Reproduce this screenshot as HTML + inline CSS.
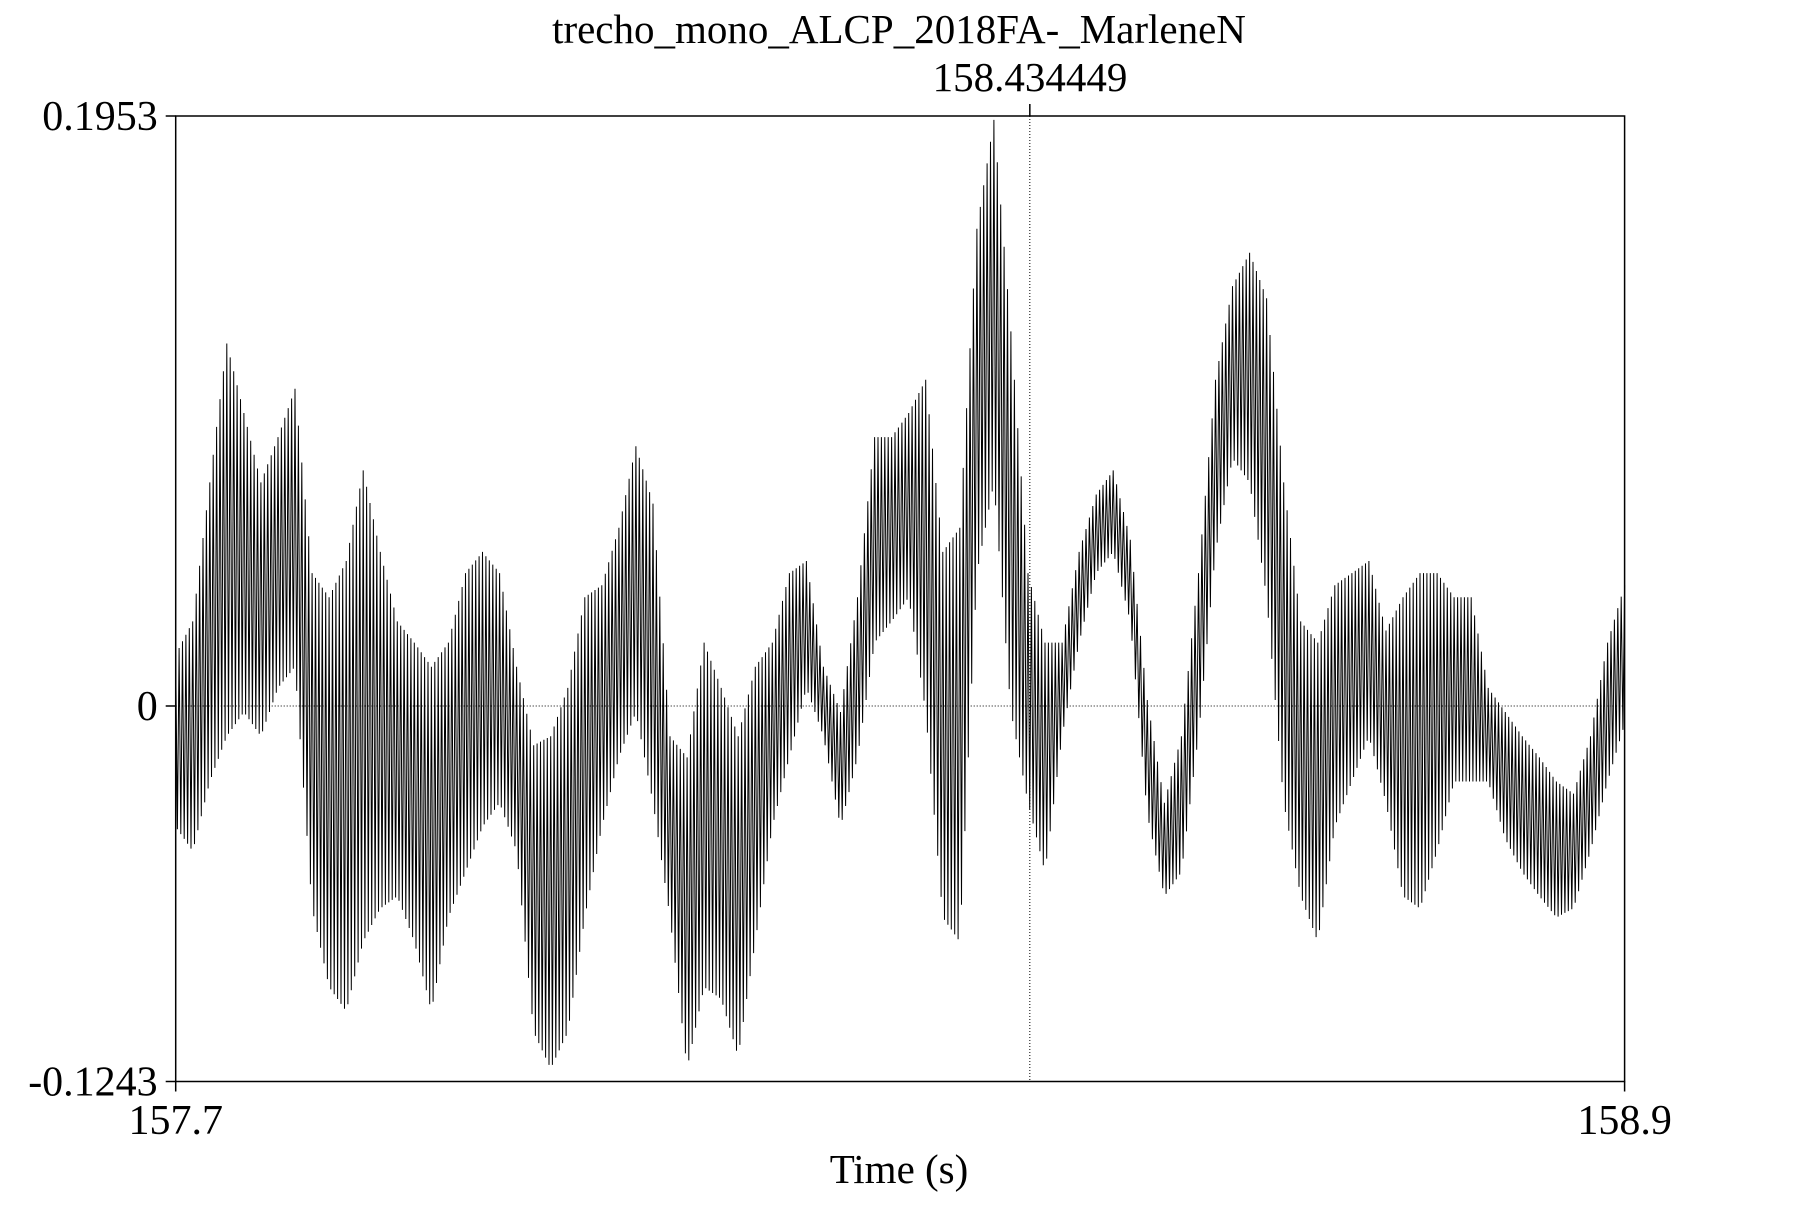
<!DOCTYPE html>
<html><head><meta charset="utf-8"><style>
body{margin:0;background:#fff}
svg text{font-family:"Liberation Serif",serif;fill:#000}
</style></head><body>
<svg id="chart" width="1800" height="1200" viewBox="0 0 1800 1200" xmlns="http://www.w3.org/2000/svg">
<text x="899" y="43" font-size="41" text-anchor="middle">trecho_mono_ALCP_2018FA-_MarleneN</text>
<text x="1030" y="91" font-size="41" text-anchor="middle">158.434449</text>
<g id="plot"></g>
<text x="899" y="1183" font-size="41" text-anchor="middle">Time (s)</text>
</svg>
<script>
const xMin = 157.7, xMax = 158.9;
const yMin = -0.1243, yMax = 0.1953;
const cursorTime = 158.4074;
const yTickLabels = ["0.1953", "0", "-0.1243"];
const yTickValues = [0.1953, 0, -0.1243];
const xTickLabels = ["157.7", "158.9"];
const xTickValues = [157.7, 158.9];
const envHigh = [0.017,0.028,0.074,0.120,0.097,0.074,0.089,0.105,0.044,0.036,0.048,0.078,0.051,0.028,0.021,0.013,0.021,0.044,0.051,0.044,0.013,-0.013,-0.010,0.006,0.036,0.040,0.059,0.086,0.067,-0.010,-0.017,0.021,0.006,-0.010,0.013,0.021,0.044,0.048,0.013,-0.002,0.036,0.089,0.089,0.097,0.108,0.051,0.059,0.158,0.194,0.124,0.044,0.021,0.021,0.051,0.070,0.078,0.055,0.002,-0.032,-0.010,0.044,0.108,0.139,0.150,0.135,0.074,0.028,0.021,0.040,0.044,0.048,0.025,0.036,0.044,0.044,0.036,0.036,0.006,-0.002,-0.010,-0.017,-0.025,-0.029,-0.010,0.021,0.040];
const envLow = [-0.040,-0.048,-0.025,-0.010,-0.002,-0.010,0.006,0.013,-0.067,-0.093,-0.101,-0.078,-0.067,-0.063,-0.078,-0.101,-0.070,-0.055,-0.040,-0.032,-0.048,-0.108,-0.120,-0.108,-0.070,-0.040,-0.017,-0.002,-0.032,-0.070,-0.120,-0.093,-0.097,-0.116,-0.078,-0.040,-0.017,0.006,-0.010,-0.040,-0.017,0.021,0.028,0.036,-0.002,-0.070,-0.078,0.044,0.074,-0.002,-0.032,-0.055,-0.010,0.021,0.044,0.051,0.028,-0.036,-0.063,-0.055,-0.010,0.051,0.082,0.074,0.036,-0.032,-0.063,-0.078,-0.040,-0.025,-0.010,-0.032,-0.063,-0.067,-0.048,-0.025,-0.025,-0.025,-0.044,-0.055,-0.063,-0.070,-0.067,-0.048,-0.025,-0.006];

const L=175.7, R=1624.6, T=116, B=1081.5;
const sx = t => L + (t - xMin) / (xMax - xMin) * (R - L);
const sy = v => T + (yMax - v) / (yMax - yMin) * (B - T);
const NS = "http://www.w3.org/2000/svg";
const plot = document.getElementById('plot');
function mk(tag, attrs){const e=document.createElementNS(NS,tag);for(const k in attrs)e.setAttribute(k,attrs[k]);plot.appendChild(e);return e;}

const n = envHigh.length;
const times = envHigh.map((_, i) => xMin + i * (xMax - xMin) / (n - 1));
let pts = [];
const sub = 5;
for (let i = 0; i < n - 1; i++) {
  for (let k = 0; k < sub * 2; k++) {
    const f = k / (sub * 2);
    const t = times[i] + f * (times[i+1] - times[i]);
    const v = k % 2 === 0 ? envHigh[i] + f*(envHigh[i+1]-envHigh[i]) : envLow[i] + f*(envLow[i+1]-envLow[i]);
    pts.push(sx(t).toFixed(1) + ',' + sy(v).toFixed(1));
  }
}
pts.push(sx(times[n-1]).toFixed(1) + ',' + sy(envHigh[n-1]).toFixed(1));

const zl = mk('line',{x1:L,x2:R,y1:sy(0),y2:sy(0),stroke:'#000','stroke-width':1,'stroke-dasharray':'1,2'});


const cl = mk('line',{x1:sx(cursorTime),x2:sx(cursorTime),y1:T,y2:B,stroke:'#000','stroke-width':1,'stroke-dasharray':'1,2'});


const ct = mk('line',{x1:sx(cursorTime),x2:sx(cursorTime),y1:T-12,y2:T,stroke:'#000','stroke-width':1.5});



const wave = mk('polyline',{points:pts.join(' '),fill:'none',stroke:'#000','stroke-width':1,'stroke-linejoin':'bevel'});



const frame = mk('rect',{x:L,y:T,width:R-L,height:B-T,fill:'none',stroke:'#000','stroke-width':1.5});



yTickValues.forEach((v,i)=>{
  const tk = mk('line',{x1:L-10,x2:L,y1:sy(v),y2:sy(v),stroke:'#000','stroke-width':1.5});
  
  
  const tx = mk('text',{x:L-18,y:sy(v)+14,'font-size':42,'text-anchor':'end'});
  tx.textContent = yTickLabels[i];
  
  
});
xTickValues.forEach((v,i)=>{
  const tk = mk('line',{x1:sx(v),x2:sx(v),y1:B,y2:B+10,stroke:'#000','stroke-width':1.5});
  
  
  const tx = mk('text',{x:sx(v),y:1134,'font-size':42,'text-anchor':'middle'});
  tx.textContent = xTickLabels[i];
  
  
});
</script>
</body></html>
